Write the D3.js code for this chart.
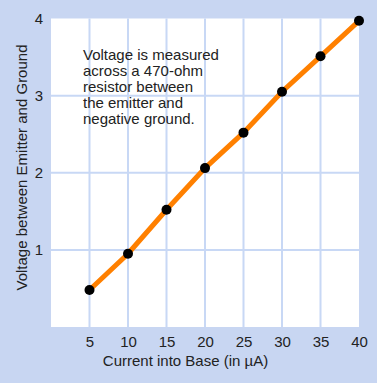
<!DOCTYPE html>
<html lang="en">
<head>
<meta charset="utf-8">
<title>Transistor voltage</title>
<script src="https://d3js.org/d3.v7.min.js"></script>
<style>
  * { margin: 0; padding: 0; }
  body { background: #c8d6f2; width: 377px; height: 383px; overflow: hidden; }
  text { font-family: "Liberation Sans", Arial, sans-serif; fill: #222; }
</style>
</head>
<body>
<svg id="chart" width="377" height="383"></svg>
<script>
// data
const currents = [5, 10, 15, 20, 25, 30, 35, 40];
const voltages = [0.48, 0.95, 1.52, 2.06, 2.52, 3.05, 3.51, 3.97];
const xTicks = [5, 10, 15, 20, 25, 30, 35, 40];
const yTicks = [1, 2, 3, 4];
const noteLines = [
  "Voltage is measured",
  "across a 470-ohm",
  "resistor between",
  "the emitter and",
  "negative ground."
];

const plotLeft = 51, plotRight = 359, plotTop = 18.5, plotBottom = 327;

const svg = d3.select("#chart");

const x = d3.scaleLinear().domain([0, 40]).range([plotLeft, plotRight]);
const y = d3.scaleLinear().domain([0, 4]).range([plotBottom, plotTop]);

// plot background
svg.append("rect")
  .attr("x", plotLeft).attr("y", plotTop)
  .attr("width", plotRight - plotLeft).attr("height", plotBottom - plotTop)
  .attr("fill", "#ffffff");

// grid
svg.append("g").selectAll("line")
  .data(xTicks.filter(d => d < 40))
  .join("line")
  .attr("x1", d => x(d)).attr("x2", d => x(d))
  .attr("y1", plotTop).attr("y2", plotBottom)
  .attr("stroke", "#c8d8f5").attr("stroke-width", 2);

svg.append("g").selectAll("line")
  .data(yTicks.filter(d => d < 4))
  .join("line")
  .attr("x1", plotLeft).attr("x2", plotRight)
  .attr("y1", d => y(d)).attr("y2", d => y(d))
  .attr("stroke", "#c8d8f5").attr("stroke-width", 2);

// axes
const xAxis = d3.axisBottom(x).tickValues(xTicks).tickFormat(d3.format("d"))
  .tickSize(0).tickPadding(9);
svg.append("g")
  .attr("transform", `translate(0,${plotBottom})`)
  .call(xAxis)
  .call(g => g.select(".domain").remove())
  .selectAll("text")
  .attr("font-size", 15)
  .attr("font-family", "Liberation Sans, Arial, sans-serif")
  .attr("fill", "#222");

const yAxis = d3.axisLeft(y).tickValues(yTicks).tickFormat(d3.format("d"))
  .tickSize(0).tickPadding(8);
svg.append("g")
  .attr("transform", `translate(${plotLeft},0)`)
  .call(yAxis)
  .call(g => g.select(".domain").remove())
  .selectAll("text")
  .attr("font-size", 15)
  .attr("font-family", "Liberation Sans, Arial, sans-serif")
  .attr("fill", "#222");

// line and points
const line = d3.line()
  .x((d, i) => x(currents[i]))
  .y(d => y(d));

svg.append("path")
  .datum(voltages)
  .attr("d", line)
  .attr("fill", "none")
  .attr("stroke", "#ff8000")
  .attr("stroke-width", 5);

svg.append("g").selectAll("circle")
  .data(voltages)
  .join("circle")
  .attr("cx", (d, i) => x(currents[i]))
  .attr("cy", d => y(d))
  .attr("r", 5)
  .attr("fill", "#000");

// note
svg.append("text")
  .attr("x", 83).attr("y", 60)
  .attr("font-size", 15)
  .selectAll("tspan")
  .data(noteLines)
  .join("tspan")
  .attr("x", 83)
  .attr("dy", (d, i) => i === 0 ? 0 : 16)
  .text(d => d);

// axis titles
svg.append("text")
  .attr("x", 185.5).attr("y", 366)
  .attr("text-anchor", "middle")
  .attr("font-size", 15)
  .text("Current into Base (in µA)");

svg.append("text")
  .attr("transform", `translate(27,167.5) rotate(-90)`)
  .attr("text-anchor", "middle")
  .attr("font-size", 15)
  .text("Voltage between Emitter and Ground");
</script>
</body>
</html>
